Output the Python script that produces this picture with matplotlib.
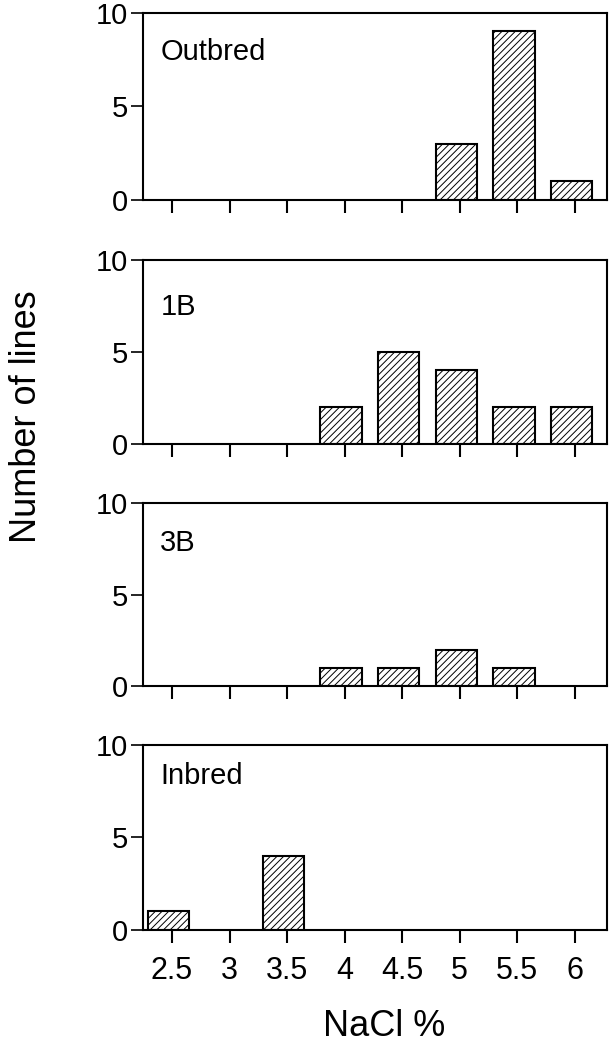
import matplotlib
matplotlib.use("Agg")
import matplotlib.pyplot as plt

plt.rcParams['font.family'] = ['Liberation Sans', 'DejaVu Sans']
plt.rcParams['hatch.linewidth'] = 0.7

# NaCl % classes and number of lines per group
groups = ["Outbred", "1B", "3B", "Inbred"]
outbred_x = [5.0, 5.5, 6.0]
outbred_n = [3, 9, 1]
b1_x = [4.0, 4.5, 5.0, 5.5, 6.0]
b1_n = [2, 5, 4, 2, 2]
b3_x = [4.0, 4.5, 5.0, 5.5]
b3_n = [1, 1, 2, 1]
inbred_x = [2.5, 3.5]
inbred_n = [1, 4]
xticks = [2.5, 3, 3.5, 4, 4.5, 5, 5.5, 6]
xticklabels = ["2.5", "3", "3.5", "4", "4.5", "5", "5.5", "6"]

data = [(outbred_x, outbred_n), (b1_x, b1_n), (b3_x, b3_n), (inbred_x, inbred_n)]

fig = plt.figure(figsize=(6.12, 10.46), dpi=100)

# axes boxes [left, bottom, width, height] in figure fraction
boxes = [[0.234, 0.809, 0.758, 0.179],
         [0.234, 0.5755, 0.758, 0.176],
         [0.234, 0.344, 0.758, 0.175],
         [0.234, 0.111, 0.758, 0.177]]
label_y = [0.79, 0.745, 0.78, 0.83]

for i, (name, (xs, ns)) in enumerate(zip(groups, data)):
    ax = fig.add_axes(boxes[i])
    ax.bar([x - 0.03 for x in xs], ns, width=0.36, color="white",
           edgecolor="black", linewidth=1.5, hatch="/////")
    ax.set_xlim(2.25, 6.28)
    ax.set_ylim(0, 10)
    ax.set_yticks([0, 5, 10])
    ax.set_xticks(xticks)
    for s in ax.spines.values():
        s.set_linewidth(1.5)
    ax.tick_params(axis="y", direction="out", length=9, width=1.2,
                   labelsize=21, pad=2)
    ax.tick_params(axis="x", direction="out", length=9, width=1.5,
                   labelsize=22, pad=10)
    if i < 3:
        ax.set_xticklabels([])
    else:
        ax.set_xticklabels(xticklabels)
    ax.text(0.037, label_y[i], name, transform=ax.transAxes,
            fontsize=21, va="center", ha="left")

fig.text(0.044, 0.602, "Number of lines", rotation=90, fontsize=26,
         ha="center", va="center")
fig.text(0.628, 0.019, "NaCl %", fontsize=26, ha="center", va="center")

fig.savefig("out.png", dpi=100)
